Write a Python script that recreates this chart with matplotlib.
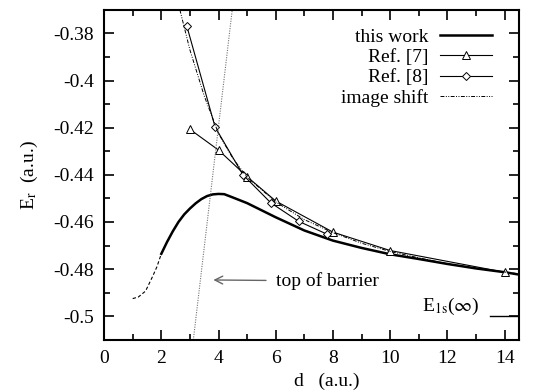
import matplotlib
matplotlib.use('Agg')
import matplotlib.pyplot as plt
from matplotlib.ticker import MultipleLocator, FuncFormatter

plt.rcParams['font.family'] = ['Liberation Serif', 'DejaVu Serif']
plt.rcParams['mathtext.fontset'] = 'stix'

# this work (thin dashed part for small d, thick part from d = 2)
d_low = [1.0, 1.2, 1.45, 1.7, 1.85, 2.0]
e_low = [-0.4925, -0.4918, -0.4893, -0.4830, -0.4789, -0.4735]
d_work = [2.0, 2.2, 2.4, 2.6, 2.8, 3.0, 3.2, 3.4, 3.6, 3.8, 4.0, 4.2, 4.5, 5.0, 5.5, 6.0,
          7.0, 8.0, 9.0, 10.0, 11.0, 12.0, 13.0, 14.0, 14.5]
e_work = [-0.4735, -0.4685, -0.4640, -0.4600, -0.4568, -0.4543, -0.4521, -0.4503, -0.4490,
          -0.4483, -0.4481, -0.4482, -0.4496, -0.4520, -0.4550, -0.4580, -0.4636, -0.4679,
          -0.4710, -0.4737, -0.4757, -0.4778, -0.4797, -0.4813, -0.4823]

# Ref. [7]
d_ref7 = [3.0, 4.0, 5.0, 6.0, 8.0, 10.0, 14.0]
e_ref7 = [-0.4207, -0.4295, -0.4408, -0.4511, -0.4643, -0.4721, -0.4813]

# Ref. [8]
d_ref8 = [2.89, 3.88, 4.85, 5.83, 6.8, 7.78]
e_ref8 = [-0.3768, -0.4197, -0.4399, -0.4519, -0.4597, -0.4651]

# image shift
d_img = [2.65, 3.0, 3.5, 4.0, 4.5, 5.0, 6.0, 7.0, 8.0, 9.0, 10.0, 11.0, 12.0, 13.0, 14.0, 14.5]
e_img = [-0.3700, -0.3870, -0.4065, -0.4225, -0.4330, -0.4410, -0.4515, -0.4590, -0.4645,
         -0.4690, -0.4725, -0.4752, -0.4777, -0.4796, -0.4812, -0.4820]

# line through the barrier tops
d_barrier = [3.12, 4.48]
e_barrier = [-0.51, -0.37]

e_inf = -0.5

fig = plt.figure(figsize=(5.45, 3.92), dpi=100)
ax = fig.add_axes([0.191, 0.133, 0.761, 0.842])

ax.plot(d_low, e_low, color='black', lw=0.8, ls=(0, (3, 2)))
ax.plot(d_work, e_work, color='black', lw=1.8, label='this work')
ax.plot(d_ref7, e_ref7, color='black', lw=0.8, marker='^', mfc='white', mec='black',
        ms=6, mew=0.7, label='Ref. [7]')
ax.plot(d_ref8, e_ref8, color='black', lw=0.8, marker='D', mfc='white', mec='black',
        ms=4.5, mew=0.7, label='Ref. [8]')
ax.plot(d_img, e_img, color='black', lw=0.7, ls=(0, (4, 1.5, 1, 1.5, 1, 1.5)),
        label='image shift')
ax.plot(d_barrier, e_barrier, color='0.45', lw=0.8, ls=(0, (1, 1.2)))

# E_1s(infinity) marker
ax.plot([13.48, 14.5], [e_inf, e_inf], color='black', lw=1.0)
ax.text(11.1, -0.4958, r'E$_{\rm 1s}$($\infty$)', fontsize=14, va='center', ha='left')

ax.annotate('top of barrier', xy=(3.82, -0.4846), xytext=(6.0, -0.4850),
            fontsize=14, va='center', ha='left',
            arrowprops=dict(arrowstyle='->', color='0.4', lw=1.0,
                            shrinkA=5, shrinkB=0))

ax.set_xlim(0, 14.5)
ax.set_ylim(-0.51, -0.37)
ax.xaxis.set_major_locator(MultipleLocator(2))
ax.xaxis.set_minor_locator(MultipleLocator(1))
ax.yaxis.set_major_locator(MultipleLocator(0.02))
ax.yaxis.set_minor_locator(MultipleLocator(0.01))
ax.yaxis.set_major_formatter(FuncFormatter(lambda v, p: '%g' % round(v, 2)))
ax.tick_params(which='both', direction='in', top=True, right=True, labelsize=14, width=1.2)
ax.tick_params(which='major', length=7, pad=7)
ax.tick_params(which='minor', length=4)
for s in ax.spines.values():
    s.set_linewidth(1.5)

ax.set_xlabel('d   (a.u.)', fontsize=14, labelpad=1)
ax.xaxis.set_label_coords(0.537, -0.1)
ax.set_ylabel(r'E$_{\rm r}$  (a.u.)', fontsize=14, labelpad=10)

ax.legend(loc='upper right', frameon=False, markerfirst=False, fontsize=14,
          handlelength=2.7, handletextpad=0.6, labelspacing=0.14,
          borderaxespad=0.0, bbox_to_anchor=(0.955, 0.968))

fig.savefig('out.png', dpi=100)
